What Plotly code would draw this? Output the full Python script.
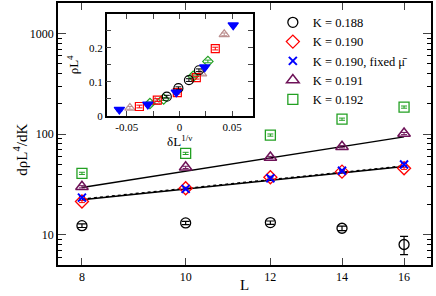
import plotly.graph_objects as go

# ---- main panel data ----
L = [8, 10, 12, 14, 16]
k188 = [12.3, 13.1, 13.2, 11.6, 8.0]
k188_err = [0.5, 0.5, 0.5, 0.6, 1.65]
k190 = [21.4, 29.0, 37.3, 42.4, 45.8]
k190_fixed = [23.4, 28.6, 36.4, 43.2, 50.0]
k191 = [30.0, 46.8, 58.7, 75.0, 101.5]
k192 = [40.8, 64.4, 98.0, 141.0, 186.0]

fit_L = [8, 16]
fit_191 = [29.5, 94.0]
fit_190_solid = [22.3, 47.6]
fit_190_dotted = [22.6, 48.3]

# ---- inset data (delta L^{1/nu}, rho L^4) ----
ins_circ_x = [-0.012, -0.001, 0.009, 0.0185]
ins_circ_y = [0.056, 0.081, 0.105, 0.134]
ins_sq_x = [-0.038, -0.021, -0.002, 0.016, 0.034]
ins_sq_y = [0.027, 0.046, 0.068, 0.112, 0.198]
ins_dn_x = [-0.057, -0.030, -0.003, 0.024, 0.051]
ins_dn_y = [0.018, 0.033, 0.069, 0.143, 0.267]
ins_up_x = [-0.047, -0.023, 0.021, 0.0425]
ins_up_y = [0.023, 0.040, 0.124, 0.240]
ins_dm_x = [-0.028, -0.015, 0.013, 0.027]
ins_dm_y = [0.036, 0.049, 0.116, 0.160]

FONT = "Liberation Serif, Times New Roman, serif"
RED = "#ff0000"
BLUE = "#0000ff"
PURPLE = "#6e1258"
GREEN = "#22a022"
PINK = "#bc8f8f"

fig = go.Figure()

def err(vals, frac=0.025):
    return dict(type="data", array=[v * frac for v in vals], width=3, thickness=1)

# fit lines
fig.add_trace(go.Scatter(x=fit_L, y=fit_191, mode="lines", line=dict(color="black", width=1.5),
                         showlegend=False, hoverinfo="skip"))
fig.add_trace(go.Scatter(x=fit_L, y=fit_190_solid, mode="lines", line=dict(color="black", width=1.5),
                         showlegend=False, hoverinfo="skip"))
fig.add_trace(go.Scatter(x=fit_L, y=fit_190_dotted, mode="lines", line=dict(color="black", width=1.5, dash="dot"),
                         showlegend=False, hoverinfo="skip"))

e188 = dict(type="data", array=k188_err, width=4, thickness=1.2, color="black")
fig.add_trace(go.Scatter(x=L, y=k188, mode="markers", name="K = 0.188",
                         marker=dict(symbol="circle-open", size=10, color="black", line=dict(width=1.3)),
                         error_y=e188))
fig.add_trace(go.Scatter(x=L, y=k190, mode="markers", name="K = 0.190",
                         marker=dict(symbol="diamond-open", size=10, color=RED, line=dict(width=1.3)),
                         error_y={**err(k190), "color": RED}))
fig.add_trace(go.Scatter(x=L, y=k190_fixed, mode="markers", name="K = 0.190, fixed μ̄",
                         marker=dict(symbol="x-thin", size=8, color=BLUE, line=dict(width=2, color=BLUE)),
                         error_y={**err(k190_fixed), "color": BLUE}))
fig.add_trace(go.Scatter(x=L, y=k191, mode="markers", name="K = 0.191",
                         marker=dict(symbol="triangle-up-open", size=11, color=PURPLE, line=dict(width=1.5)),
                         error_y={**err(k191), "color": PURPLE}))
fig.add_trace(go.Scatter(x=L, y=k192, mode="markers", name="K = 0.192",
                         marker=dict(symbol="square-open", size=10, color=GREEN, line=dict(width=1.3)),
                         error_y={**err(k192), "color": GREEN}))

# inset traces
def ins(x, y, sym, col, size=8):
    fig.add_trace(go.Scatter(x=x, y=y, mode="markers", xaxis="x2", yaxis="y2", showlegend=False,
                             marker=dict(symbol=sym, size=size, color=col, line=dict(width=1.2, color=col)),
                             error_y=dict(type="data", array=[0.004] * len(y), width=3, thickness=1, color=col)))

ins(ins_up_x, ins_up_y, "triangle-up-open", PINK, 9)
ins(ins_dm_x, ins_dm_y, "diamond-open", GREEN, 8)
ins(ins_sq_x, ins_sq_y, "square-open", RED, 8)
ins(ins_circ_x, ins_circ_y, "circle-open", "black", 9)
ins(ins_dn_x, ins_dn_y, "triangle-down", BLUE, 9)

major_y = [10, 100, 1000]
minor_y = [m * d for d in (1, 10, 100, 1000) for m in range(2, 10) if 5 <= m * d <= 2000]

fig.update_layout(
    width=436, height=296,
    margin=dict(l=58, r=5, t=3, b=31, autoexpand=False),
    paper_bgcolor="white", plot_bgcolor="white",
    font=dict(family=FONT, size=12, color="black"),
    showlegend=True,
    legend=dict(x=0.576, y=0.982, xanchor="left", yanchor="top", bgcolor="rgba(0,0,0,0)",
                font=dict(family=FONT, size=12.5), itemwidth=30, tracegroupgap=0),
    xaxis=dict(type="log", range=[0.8807, 1.2293], tickvals=L, ticktext=[str(v) for v in L],
               ticks="inside", ticklen=7, tickwidth=1.2, showline=True, linewidth=1.8, linecolor="black",
               mirror="ticks", showgrid=False, zeroline=False,
               tickfont=dict(family=FONT, size=12)),
    yaxis=dict(type="log", range=[0.699, 3.3045], tickvals=major_y, ticktext=["10", "100", "1000"],
               ticks="inside", ticklen=8, tickwidth=1.2, showline=True, linewidth=1.8, linecolor="black",
               mirror="ticks", showgrid=False, zeroline=False,
               minor=dict(tickvals=minor_y, ticks="inside", ticklen=4, tickwidth=1, tickcolor="black"),
               tickfont=dict(family=FONT, size=12)),
    xaxis2=dict(domain=[0.1306, 0.522], anchor="y2", range=[-0.069, 0.0695],
                tickvals=[-0.05, -0.025, 0, 0.025, 0.05], ticktext=["-0.05", "", "0", "", "0.05"],
                ticks="inside", ticklen=5, tickwidth=1, showline=True, linewidth=1.5, linecolor="black",
                mirror="ticks", showgrid=False, zeroline=False,
                tickfont=dict(family=FONT, size=11),
                title=dict(text="δL<sup>1/ν</sup>", font=dict(family=FONT, size=13), standoff=0)),
    yaxis2=dict(domain=[0.57, 0.958], anchor="x2", range=[0, 0.3],
                tickvals=[0, 0.05, 0.1, 0.15, 0.2, 0.25], ticktext=["0", "", "0.1", "", "0.2", ""],
                ticks="inside", ticklen=5, tickwidth=1, showline=True, linewidth=1.5, linecolor="black",
                mirror="ticks", showgrid=False, zeroline=False,
                tickfont=dict(family=FONT, size=11),
                title=dict(text="ρL<sup>4</sup>", font=dict(family=FONT, size=13), standoff=7)),
    annotations=[
        dict(text="L", xref="paper", yref="paper", x=0.501, y=-0.076, xanchor="center", yanchor="middle",
             showarrow=False, font=dict(family=FONT, size=15)),
        dict(text="dρL<sup>4</sup>/dK", xref="paper", yref="paper", x=-0.102, y=0.44, xanchor="center",
             yanchor="middle", textangle=-90, showarrow=False, font=dict(family=FONT, size=15)),
    ],
)

fig.write_html("out.html", config={"displayModeBar": False},
               post_script="document.body.style.margin='0';")
